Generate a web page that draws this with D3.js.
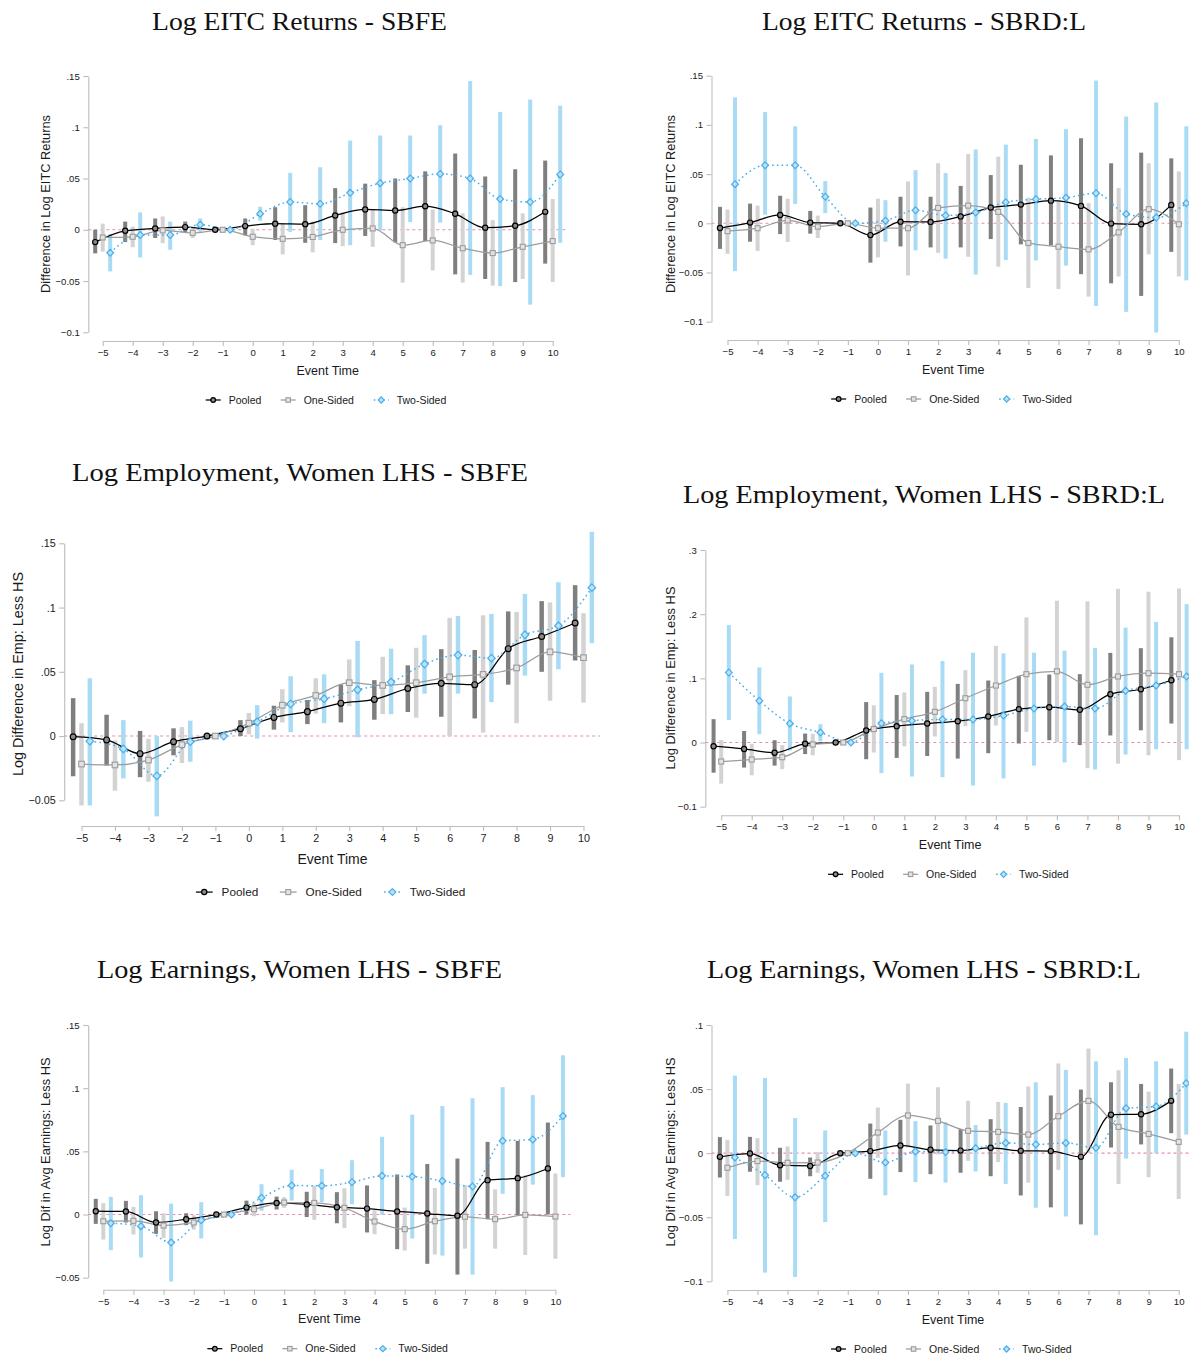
<!DOCTYPE html>
<html><head><meta charset="utf-8">
<script src="https://cdn.jsdelivr.net/npm/d3@7/dist/d3.min.js"></script>
<style>body{margin:0;background:#fff}svg{display:block}</style>
</head><body>
<svg id="c" width="1189" height="1358"></svg>
<script>
// ---------- DATA ----------
const eventTime = [-5,-4,-3,-2,-1,0,1,2,3,4,5,6,7,8,9,10];
const seriesNames = ["Pooled", "One-Sided", "Two-Sided"];
const panelTitles = [
  "Log EITC Returns - SBFE", "Log EITC Returns - SBRD:L",
  "Log Employment, Women LHS - SBFE", "Log Employment, Women LHS - SBRD:L",
  "Log Earnings, Women LHS - SBFE", "Log Earnings, Women LHS - SBRD:L"
];
const yTitles = [
  "Difference in Log EITC Returns", "Difference in Log EITC Returns",
  "Log Difference in Emp: Less HS", "Log Difference in Emp: Less HS",
  "Log Dif in Avg Earnings: Less HS", "Log Dif in Avg Earnings: Less HS"
];
const xTitle = "Event Time";
const yTicks1 = [-0.1, -0.05, 0, 0.05, 0.1, 0.15];
const yTicks2 = [-0.1, -0.05, 0, 0.05, 0.1, 0.15];
const yTicks3 = [-0.05, 0, 0.05, 0.1, 0.15];
const yTicks4 = [-0.1, 0, 0.1, 0.2, 0.3];
const yTicks5 = [-0.05, 0, 0.05, 0.1, 0.15];
const yTicks6 = [-0.1, -0.05, 0, 0.05, 0.1];

// each entry: [estimate, ci low, ci high], event time -5..10
const p1Pooled = [[-0.012,-0.023,0.000],[-0.001,-0.012,0.008],[0.0013,-0.008,0.011],[0.0026,-0.0026,0.008],[0,0,0],[0.0036,-0.0055,0.011],[0.006,-0.010,0.022],[0.0055,-0.0127,0.024],[0.014,-0.013,0.0406],[0.0198,-0.006,0.045],[0.0188,-0.0123,0.050],[0.023,-0.011,0.057],[0.0156,-0.0435,0.0744],[0.002,-0.048,0.052],[0.004,-0.051,0.059],[0.0175,-0.033,0.0675]];
const p1One = [[-0.0075,-0.0214,0.006],[-0.0068,-0.017,0.003],[-0.0006,-0.013,0.013],[-0.003,-0.008,0.002],[0,-0.0023,0.0023],[-0.0068,-0.015,0.001],[-0.0088,-0.024,0.006],[-0.007,-0.022,0.008],[0,-0.016,0.017],[0.0013,-0.0166,0.0195],[-0.015,-0.0516,0.022],[-0.0104,-0.0396,0.0198],[-0.018,-0.0516,0.016],[-0.0227,-0.0545,0.0094],[-0.0166,-0.048,0.016],[-0.011,-0.051,0.030]];
const p1Two = [[-0.0224,-0.0406,-0.004],[-0.005,-0.027,0.017],[-0.005,-0.0195,0.008],[0.005,-0.002,0.011],[0,-0.0025,0.0025],[0.0156,0.0088,0.0224],[0.027,-0.002,0.0555],[0.0253,-0.010,0.061],[0.036,-0.015,0.087],[0.0455,-0.0006,0.092],[0.050,0.0075,0.092],[0.0545,0.007,0.102],[0.050,-0.044,0.145],[0.030,-0.055,0.115],[0.027,-0.073,0.127],[0.054,-0.0127,0.121]];

const p2Pooled = [[-0.0048,-0.026,0.0167],[0.0007,-0.0187,0.020],[0.0085,-0.011,0.028],[0.0007,-0.0105,0.0126],[0,0,0],[-0.012,-0.040,0.016],[0.0017,-0.0235,0.027],[0.0014,-0.0245,0.027],[0.007,-0.0245,0.038],[0.016,-0.016,0.049],[0.019,-0.0214,0.0595],[0.023,-0.0224,0.069],[0.0177,-0.0517,0.0864],[-0.0003,-0.061,0.061],[-0.001,-0.0738,0.0718],[0.0187,-0.029,0.066]];
const p2One = [[-0.008,-0.031,0.014],[-0.005,-0.028,0.018],[0.003,-0.019,0.025],[-0.0034,-0.015,0.0078],[0,0,0],[-0.005,-0.0347,0.025],[-0.005,-0.053,0.0425],[0.0156,-0.030,0.061],[0.018,-0.034,0.0704],[0.0116,-0.044,0.0677],[-0.020,-0.0657,0.026],[-0.0238,-0.0667,0.0235],[-0.0265,-0.0745,0.0207],[-0.0092,-0.054,0.036],[0.0143,-0.0316,0.061],[-0.001,-0.054,0.0527]];
const p2Two = [[0.0398,-0.0486,0.128],[0.059,0.0088,0.113],[0.059,0.0197,0.0986],[0.027,0.0105,0.043],[0,0,0],[0.0027,-0.0187,0.0235],[0.0133,-0.0275,0.054],[0.008,-0.036,0.051],[0.011,-0.052,0.075],[0.0214,-0.0374,0.080],[0.0245,-0.0378,0.0857],[0.026,-0.043,0.0956],[0.0306,-0.084,0.145],[0.0095,-0.090,0.1085],[0.0058,-0.111,0.1228],[0.0204,-0.058,0.0986]];

const p3Pooled = [[-0.0005,-0.0313,0.0295],[-0.003,-0.023,0.0166],[-0.0137,-0.032,0.004],[-0.0044,-0.015,0.006],[0,0,0],[0.0057,0,0.0124],[0.0145,0.005,0.0236],[0.019,0.0093,0.028],[0.0256,0.0106,0.040],[0.0285,0.0127,0.0435],[0.037,0.0187,0.055],[0.041,0.015,0.0676],[0.040,0.0137,0.067],[0.068,0.040,0.097],[0.0775,0.050,0.105],[0.088,0.0588,0.1174]];
const p3One = [[-0.0218,-0.054,0.010],[-0.0225,-0.0425,-0.0034],[-0.0187,-0.0355,-0.002],[-0.0067,-0.021,0.007],[0,0,0],[0.010,0.0013,0.018],[0.024,0.0106,0.0365],[0.0316,0.0174,0.045],[0.0415,0.0233,0.0596],[0.0394,0.0171,0.0617],[0.0415,0.0143,0.0687],[0.046,0,0.092],[0.048,0.0026,0.094],[0.053,0.010,0.0966],[0.0655,0.0275,0.104],[0.061,0.026,0.0956]];
const p3Two = [[-0.004,-0.054,0.045],[-0.010,-0.033,0.0124],[-0.031,-0.0625,0],[-0.0044,-0.020,0.012],[0,0,0],[0.011,-0.002,0.024],[0.025,0.003,0.0466],[0.029,0.010,0.048],[0.036,-0.001,0.074],[0.042,0.017,0.068],[0.056,0.033,0.0785],[0.063,0.033,0.0935],[0.0606,0.0264,0.095],[0.0788,0.047,0.1106],[0.0858,0.052,0.1197],[0.1155,0.0723,0.159]];

const p4Pooled = [[-0.0057,-0.047,0.0364],[-0.010,-0.039,0.018],[-0.016,-0.036,0.0036],[-0.002,-0.018,0.014],[0,0,0],[0.0187,-0.026,0.063],[0.0255,-0.024,0.074],[0.0296,-0.021,0.079],[0.0332,-0.025,0.0914],[0.0405,-0.0166,0.0966],[0.052,-0.0016,0.104],[0.055,0.0036,0.106],[0.051,-0.004,0.1065],[0.0753,0.011,0.1397],[0.083,0.019,0.147],[0.097,0.0296,0.164]];
const p4One = [[-0.0296,-0.064,0.004],[-0.0265,-0.051,-0.002],[-0.0229,-0.0416,-0.004],[-0.003,-0.020,0.0135],[0,0,0],[0.021,-0.0156,0.058],[0.0364,-0.006,0.078],[0.0478,0.0094,0.0868],[0.069,0.0255,0.1127],[0.0888,0.0265,0.1506],[0.1065,0.0166,0.195],[0.111,0.0005,0.221],[0.090,-0.040,0.220],[0.1029,-0.033,0.2395],[0.108,-0.020,0.235],[0.1065,-0.0275,0.240]];
const p4Two = [[0.109,0.035,0.183],[0.065,0.013,0.117],[0.0296,-0.0125,0.0717],[0.0156,0.002,0.0286],[0,0,0],[0.030,-0.0478,0.1086],[0.034,-0.053,0.1216],[0.036,-0.054,0.127],[0.036,-0.067,0.140],[0.042,-0.056,0.139],[0.053,-0.036,0.140],[0.056,-0.031,0.143],[0.053,-0.042,0.1475],[0.0805,-0.0187,0.179],[0.0888,-0.0104,0.188],[0.103,-0.0104,0.2156]];

const p5Pooled = [[0.0026,-0.0074,0.0124],[0.0024,-0.0063,0.0108],[-0.0063,-0.0153,0.0026],[-0.0037,-0.0084,0.001],[0,0,0],[0.0055,0,0.011],[0.0092,0.004,0.0142],[0.008,-0.002,0.018],[0.0058,-0.0069,0.0177],[0.0047,-0.0142,0.023],[0.0024,-0.0274,0.0317],[0.0008,-0.039,0.040],[-0.001,-0.0475,0.0443],[0.0272,-0.0037,0.0575],[0.0288,-0.0005,0.0583],[0.0364,0,0.0728]];
const p5One = [[-0.0053,-0.0198,0.009],[-0.005,-0.0158,0.006],[-0.0087,-0.0185,0.001],[-0.0063,-0.012,-0.0005],[0,0,0],[0.0042,-0.0013,0.0092],[0.0095,0.0053,0.0137],[0.0092,-0.0042,0.023],[0.0053,-0.0108,0.0208],[-0.0055,-0.0156,0.0034],[-0.0116,-0.0285,0.0055],[-0.0053,-0.0317,0.021],[-0.0018,-0.027,0.0232],[-0.0037,-0.027,0.020],[-0.0003,-0.032,0.031],[-0.0016,-0.035,0.0325]];
const p5Two = [[-0.0069,-0.0282,0.014],[-0.0092,-0.034,0.0153],[-0.0222,-0.053,0.0087],[-0.0045,-0.019,0.0098],[0,0,0],[0.0132,0.003,0.024],[0.023,0.011,0.0354],[0.0227,0.0098,0.036],[0.0256,0.0082,0.043],[0.0306,0,0.0615],[0.030,-0.019,0.079],[0.0266,-0.0325,0.0858],[0.0222,-0.0475,0.092],[0.0583,0.0164,0.1008],[0.0594,0.0237,0.0945],[0.078,0.0296,0.126]];

const p6Pooled = [[-0.0029,-0.019,0.0125],[-0.0003,-0.0145,0.0127],[-0.0094,-0.0223,0.0042],[-0.010,-0.018,-0.0034],[0,0,0],[0.0016,-0.020,0.0231],[0.006,-0.0148,0.026],[0.0026,-0.0164,0.0216],[0.002,-0.0153,0.0187],[0.0042,-0.018,0.0265],[0.0018,-0.033,0.036],[0.0016,-0.0423,0.045],[-0.0029,-0.0556,0.0496],[0.030,0.0044,0.0553],[0.0304,0.0068,0.054],[0.0408,0.0156,0.066]];
const p6One = [[-0.0114,-0.0335,0.0104],[-0.0062,-0.025,0.0117],[-0.0075,-0.0208,0.0052],[-0.0073,-0.0153,0.0008],[0,0,0],[0.0161,-0.0036,0.0356],[0.0294,0.0044,0.0543],[0.0252,-0.001,0.0514],[0.0174,-0.006,0.0408],[0.0166,-0.007,0.040],[0.0145,-0.023,0.052],[0.0288,-0.013,0.070],[0.0408,0,0.0816],[0.0205,-0.024,0.0647],[0.015,-0.0187,0.048],[0.0088,-0.0358,0.054]];
const p6Two = [[-0.0034,-0.067,0.0605],[-0.0171,-0.0932,0.0587],[-0.0345,-0.0966,0.0273],[-0.0177,-0.0538,0.0177],[0,0,0],[-0.0073,-0.033,0.0177],[0.0013,-0.0226,0.025],[0.0008,-0.023,0.0242],[0.0039,-0.0143,0.022],[0.008,-0.024,0.0392],[0.0068,-0.0426,0.0553],[0.008,-0.0494,0.065],[0.0042,-0.064,0.0717],[0.035,-0.0042,0.0743],[0.0364,0,0.0717],[0.0545,0.0145,0.0948]];

// ---------- LAYOUT (positions / styles) ----------
const layouts = [
  {x0:102.7,x1:552.7,y0:332.3,y1:76,ymin:-0.1,ymax:0.15,yAxisX:88.3,xAxisY:341,k:1,
   title:{x0:152,x1:447,base:29.5}, yt:{x:45,cy:204,len:178}},
  {x0:727.5,x1:1178.8,y0:321.7,y1:75.7,ymin:-0.1,ymax:0.15,yAxisX:711.5,xAxisY:340,k:1,
   title:{x0:762,x1:1086,base:29.5}, yt:{x:670,cy:204,len:178}},
  {x0:81.5,x1:583.5,y0:800.3,y1:543.3,ymin:-0.05,ymax:0.15,yAxisX:64.2,xAxisY:826,k:1.12,
   title:{x0:72,x1:528,base:481}, yt:{x:18,cy:674,len:204}},
  {x0:721.2,x1:1179,y0:806.7,y1:550,ymin:-0.1,ymax:0.3,yAxisX:705.3,xAxisY:815.3,k:1,
   title:{x0:683,x1:1165,base:503}, yt:{x:670,cy:678,len:183}},
  {x0:103.3,x1:555.4,y0:1277.7,y1:1025,ymin:-0.05,ymax:0.15,yAxisX:88.2,xAxisY:1289.7,k:1,
   title:{x0:97,x1:502,base:978}, yt:{x:45,cy:1152,len:189}},
  {x0:727.4,x1:1178.7,y0:1281.3,y1:1025,ymin:-0.1,ymax:0.1,yAxisX:711.5,xAxisY:1290,k:1,
   title:{x0:707,x1:1141,base:978}, yt:{x:670,cy:1152,len:189}}
];
const panelData = [
  [p1Pooled,p1One,p1Two],[p2Pooled,p2One,p2Two],[p3Pooled,p3One,p3Two],
  [p4Pooled,p4One,p4Two],[p5Pooled,p5One,p5Two],[p6Pooled,p6One,p6Two]
];
const panelTicks = [yTicks1,yTicks2,yTicks3,yTicks4,yTicks5,yTicks6];

const offsets = [-0.25, 0, 0.25];
const barColors = ["#7f7f7f", "#d3d3d3", "#a9dbf4"];
const lineColors = ["#000000", "#9c9c9c", "#4aaee9"];
const markerFill = ["#8a8a8a", "#e2e2e2", "#b9e2f8"];
const markerStroke = ["#000000", "#9c9c9c", "#4aaee9"];
const axisColor = "#bdbdbd";
const textColor = "#1a1a1a";
const zeroColor = "#e58db6";
const sans = "'Liberation Sans', Arial, Helvetica, sans-serif";
const serif = "'Liberation Serif', 'Times New Roman', serif";

const svg = d3.select("#c");
const fmt = v => v === 0 ? "0" : d3.format("~g")(+v.toFixed(3)).replace(/^(-?)0\./, "$1.");

function drawMarker(g, type, cx, cy, k, i) {
  if (type === 0) {
    g.append("circle").attr("cx", cx).attr("cy", cy).attr("r", 2.6 * k)
      .attr("fill", markerFill[i]).attr("stroke", markerStroke[i]).attr("stroke-width", 1.2);
  } else if (type === 1) {
    const s = 5 * k;
    g.append("rect").attr("x", cx - s / 2).attr("y", cy - s / 2).attr("width", s).attr("height", s)
      .attr("fill", markerFill[i]).attr("stroke", markerStroke[i]).attr("stroke-width", 1.1);
  } else {
    const r = 3.4 * k;
    g.append("path").attr("d", `M${cx},${cy - r}L${cx + r},${cy}L${cx},${cy + r}L${cx - r},${cy}Z`)
      .attr("fill", markerFill[i]).attr("stroke", markerStroke[i]).attr("stroke-width", 1.2);
  }
}

layouts.forEach((L, p) => {
  const k = L.k;
  const g = svg.append("g");
  const x = d3.scaleLinear().domain([-5, 10]).range([L.x0, L.x1]);
  const y = d3.scaleLinear().domain([L.ymin, L.ymax]).range([L.y0, L.y1]);
  const ticks = panelTicks[p];

  // title
  g.append("text").attr("x", L.title.x0).attr("y", L.title.base)
    .attr("textLength", L.title.x1 - L.title.x0).attr("lengthAdjust", "spacingAndGlyphs")
    .style("font-family", serif).style("font-size", "25.5px").attr("fill", "#111")
    .text(panelTitles[p]);

  // y axis
  const ya = g.append("g").attr("transform", `translate(${L.yAxisX},0)`)
    .call(d3.axisLeft(y).tickValues(ticks).tickFormat(fmt).tickSizeInner(5).tickSizeOuter(0).tickPadding(3.5));
  // x axis
  const xa = g.append("g").attr("transform", `translate(0,${L.xAxisY})`)
    .call(d3.axisBottom(x).tickValues(eventTime).tickFormat(d3.format("d")).tickSizeInner(5).tickSizeOuter(0).tickPadding(3 * k));
  [ya, xa].forEach(a => {
    a.select(".domain").attr("stroke", axisColor).attr("stroke-width", 1.1);
    a.selectAll(".tick line").attr("stroke", axisColor).attr("stroke-width", 1.1);
    a.selectAll(".tick text").attr("fill", textColor)
      .style("font-family", sans).style("font-size", (9.6 * k) + "px");
  });

  // axis titles
  const cx = (L.x0 + L.x1) / 2;
  g.append("text").attr("x", cx).attr("y", L.xAxisY + 33.5 * k).attr("text-anchor", "middle")
    .style("font-family", sans).style("font-size", (12.5 * k) + "px").attr("fill", textColor).text(xTitle);
  g.append("text")
    .attr("transform", `translate(${L.yt.x + 4.5 * k},${L.yt.cy}) rotate(-90)`)
    .attr("x", -L.yt.len / 2).attr("y", 0)
    .attr("textLength", L.yt.len).attr("lengthAdjust", "spacingAndGlyphs")
    .style("font-family", sans).style("font-size", (12.5 * k) + "px").attr("fill", textColor)
    .text(yTitles[p]);

  // zero reference line
  g.append("line").attr("x1", L.yAxisX).attr("x2", x(10.5)).attr("y1", y(0)).attr("y2", y(0))
    .attr("stroke", zeroColor).attr("stroke-width", 1.1).attr("stroke-dasharray", "3,3");

  const series = panelData[p];
  // CI bars
  series.forEach((arr, i) => {
    g.append("g").selectAll("rect").data(arr.map((d, j) => ({t: eventTime[j], est: d[0], lo: d[1], hi: d[2]})).filter(d => d.hi > d.lo))
      .join("rect")
      .attr("x", d => x(d.t + offsets[i]) - 2 * k).attr("width", 4 * k)
      .attr("y", d => y(d.hi)).attr("height", d => y(d.lo) - y(d.hi))
      .attr("fill", barColors[i]);
  });
  // lines
  series.forEach((arr, i) => {
    const pts = arr.map((d, j) => ({t: eventTime[j] + offsets[i], v: d[0]}));
    const line = d3.line().x(d => x(d.t)).y(d => y(d.v)).curve(d3.curveMonotoneX);
    const path = g.append("path").attr("d", line(pts)).attr("fill", "none")
      .attr("stroke", lineColors[i]).attr("stroke-width", i === 2 ? 1.5 : 1.25);
    if (i === 2) path.attr("stroke-dasharray", "1.6,3.2");
  });
  // markers
  series.forEach((arr, i) => {
    const mg = g.append("g");
    arr.forEach((d, j) => drawMarker(mg, i, x(eventTime[j] + offsets[i]), y(d[0]), k, i));
  });

  // legend
  const ly = L.xAxisY + 59 * k;
  const starts = [-122, -47, 46];
  seriesNames.forEach((name, i) => {
    const sx = cx + starts[i] * k;
    const ln = g.append("line").attr("x1", sx).attr("x2", sx + 15 * k).attr("y1", ly).attr("y2", ly)
      .attr("stroke", lineColors[i]).attr("stroke-width", i === 2 ? 1.5 : 1.25);
    if (i === 2) ln.attr("stroke-dasharray", "1.6,3.2");
    drawMarker(g, i, sx + 7.5 * k, ly, k * 0.9, i);
    g.append("text").attr("x", sx + 23 * k).attr("y", ly + 3.7 * k)
      .style("font-family", sans).style("font-size", (10.5 * k) + "px").attr("fill", textColor).text(name);
  });
});
</script>
</body></html>
